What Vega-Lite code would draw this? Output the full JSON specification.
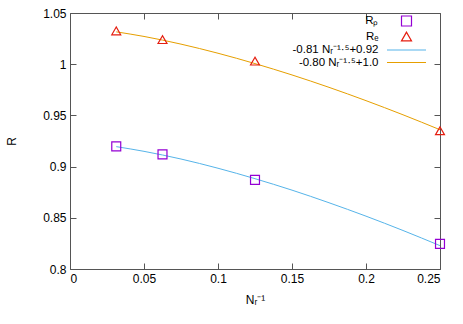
{
  "$schema": "https://vega.github.io/schema/vega-lite/v6.json",
  "width": 370,
  "height": 256,
  "autosize": "none",
  "padding": {"left": 70, "top": 13, "right": 23, "bottom": 55},
  "config": {
    "font": "Liberation Sans",
    "view": {"stroke": "#555", "strokeWidth": 1},
    "axis": {
      "grid": false,
      "domain": false,
      "tickColor": "#555",
      "tickSize": -6,
      "labelFontSize": 12,
      "labelColor": "#000",
      "titleFontSize": 12,
      "titleFontWeight": "normal",
      "titleColor": "#000",
      "labelFont": "Liberation Sans",
      "titleFont": "Liberation Sans"
    },
    "legend": {
      "labelFontSize": 11.5,
      "labelFont": "Liberation Sans",
      "labelColor": "#000",
      "padding": 0
    }
  },
  "datasets": {
    "pts": [
      {"series": "Rₚ", "x": 0.03125, "y": 0.9197},
      {"series": "Rₚ", "x": 0.0625, "y": 0.9119},
      {"series": "Rₚ", "x": 0.125, "y": 0.8870},
      {"series": "Rₚ", "x": 0.25, "y": 0.8245},
      {"series": "Rₑ", "x": 0.03125, "y": 1.0325},
      {"series": "Rₑ", "x": 0.0625, "y": 1.0240},
      {"series": "Rₑ", "x": 0.125, "y": 1.0030},
      {"series": "Rₑ", "x": 0.25, "y": 0.9350}
    ],
    "fit": [
      {"series": "-0.81 Nᵣ⁻¹·⁵+0.92", "x": 0.03125, "y": 0.9195},
      {"series": "-0.81 Nᵣ⁻¹·⁵+0.92", "x": 0.05, "y": 0.9149},
      {"series": "-0.81 Nᵣ⁻¹·⁵+0.92", "x": 0.075, "y": 0.9074},
      {"series": "-0.81 Nᵣ⁻¹·⁵+0.92", "x": 0.1, "y": 0.8984},
      {"series": "-0.81 Nᵣ⁻¹·⁵+0.92", "x": 0.125, "y": 0.8882},
      {"series": "-0.81 Nᵣ⁻¹·⁵+0.92", "x": 0.15, "y": 0.8770},
      {"series": "-0.81 Nᵣ⁻¹·⁵+0.92", "x": 0.175, "y": 0.8647},
      {"series": "-0.81 Nᵣ⁻¹·⁵+0.92", "x": 0.2, "y": 0.8516},
      {"series": "-0.81 Nᵣ⁻¹·⁵+0.92", "x": 0.225, "y": 0.8376},
      {"series": "-0.81 Nᵣ⁻¹·⁵+0.92", "x": 0.25, "y": 0.8228},
      {"series": "-0.80 Nᵣ⁻¹·⁵+1.0", "x": 0.03125, "y": 1.0316},
      {"series": "-0.80 Nᵣ⁻¹·⁵+1.0", "x": 0.05, "y": 1.0271},
      {"series": "-0.80 Nᵣ⁻¹·⁵+1.0", "x": 0.075, "y": 1.0196},
      {"series": "-0.80 Nᵣ⁻¹·⁵+1.0", "x": 0.1, "y": 1.0107},
      {"series": "-0.80 Nᵣ⁻¹·⁵+1.0", "x": 0.125, "y": 1.0006},
      {"series": "-0.80 Nᵣ⁻¹·⁵+1.0", "x": 0.15, "y": 0.9895},
      {"series": "-0.80 Nᵣ⁻¹·⁵+1.0", "x": 0.175, "y": 0.9774},
      {"series": "-0.80 Nᵣ⁻¹·⁵+1.0", "x": 0.2, "y": 0.9644},
      {"series": "-0.80 Nᵣ⁻¹·⁵+1.0", "x": 0.225, "y": 0.9506},
      {"series": "-0.80 Nᵣ⁻¹·⁵+1.0", "x": 0.25, "y": 0.9360}
    ]
  },
  "layer": [
    {
      "data": {"name": "fit"},
      "mark": {"type": "line", "strokeWidth": 1, "interpolate": "monotone"},
      "encoding": {
        "x": {
          "field": "x", "type": "quantitative",
          "scale": {"domain": [0, 0.25], "nice": false, "zero": false},
          "axis": {"title": "Nᵣ⁻¹", "values": [0, 0.05, 0.1, 0.15, 0.2, 0.25], "format": "~g", "labelPadding": 10, "titlePadding": 10}
        },
        "y": {
          "field": "y", "type": "quantitative",
          "scale": {"domain": [0.8, 1.05], "nice": false, "zero": false},
          "axis": {"title": "R", "values": [0.8, 0.85, 0.9, 0.95, 1, 1.05], "format": "~g", "labelPadding": 10, "titlePadding": 24}
        },
        "color": {
          "field": "series", "type": "nominal",
          "scale": {
            "domain": ["Rₚ", "Rₑ", "-0.81 Nᵣ⁻¹·⁵+0.92", "-0.80 Nᵣ⁻¹·⁵+1.0"],
            "range": ["#9400d3", "#e51e10", "#56b4e9", "#e69f00"]
          },
          "legend": {
            "title": null,
            "orient": "none",
            "legendX": 199,
            "legendY": 2,
            "labelAlign": "right",
            "labelOffset": -34,
            "symbolOffset": 131.5,
            "rowPadding": 0.5,
            "symbolStrokeWidth": 1.2
          }
        }
      }
    },
    {
      "data": {"name": "pts"},
      "mark": {"type": "point", "filled": false, "strokeWidth": 1.2, "size": 80, "opacity": 1},
      "encoding": {
        "x": {
          "field": "x", "type": "quantitative",
          "axis": {"orient": "top", "labels": false, "title": null, "values": [0, 0.05, 0.1, 0.15, 0.2, 0.25]}
        },
        "y": {
          "field": "y", "type": "quantitative",
          "axis": {"orient": "right", "labels": false, "title": null, "values": [0.8, 0.85, 0.9, 0.95, 1, 1.05]}
        },
        "color": {"field": "series", "type": "nominal"},
        "shape": {
          "field": "series", "type": "nominal",
          "scale": {
            "domain": ["Rₚ", "Rₑ", "-0.81 Nᵣ⁻¹·⁵+0.92", "-0.80 Nᵣ⁻¹·⁵+1.0"],
            "range": ["square", "triangle-up", "M-3.9,0H3.9", "M-3.9,0H3.9"]
          },
          "legend": {
            "title": null,
            "orient": "none",
            "legendX": 199,
            "legendY": 2,
            "labelAlign": "right",
            "labelOffset": -34,
            "symbolOffset": 131.5,
            "rowPadding": 0.5,
            "symbolStrokeWidth": 1.2
          }
        }
      }
    }
  ],
  "resolve": {"axis": {"x": "independent", "y": "independent"}}
}
